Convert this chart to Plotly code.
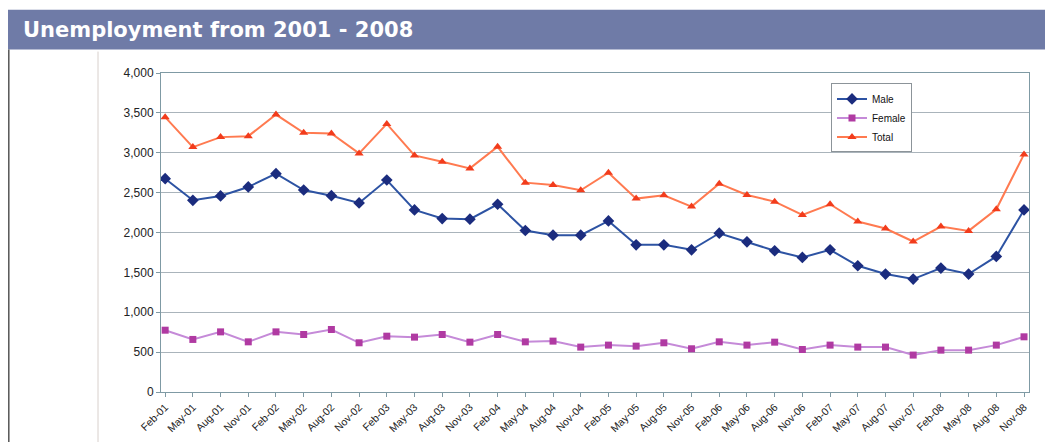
import plotly.graph_objects as go

months = ["Feb", "May", "Aug", "Nov"]
categories = [f"{m}-{y:02d}" for y in range(1, 9) for m in months]

male = [2675, 2404, 2458, 2571, 2737, 2533, 2462, 2371, 2658, 2283, 2175, 2167,
        2354, 2025, 1967, 1966, 2145, 1846, 1846, 1783, 1991, 1883, 1771, 1687,
        1783, 1583, 1479, 1416, 1554, 1479, 1700, 2283]
female = [775, 659, 754, 629, 754, 721, 784, 617, 700, 688, 721, 625,
          721, 629, 638, 563, 588, 575, 617, 542, 629, 588, 625, 533,
          588, 563, 563, 463, 525, 525, 588, 692]
total = [3446, 3071, 3196, 3208, 3479, 3250, 3242, 2992, 3362, 2967, 2887, 2804,
         3075, 2625, 2596, 2529, 2750, 2425, 2466, 2325, 2612, 2470, 2387, 2220,
         2354, 2137, 2050, 1887, 2075, 2020, 2291, 2979]

# page has an 8px body margin: work in page coordinates, convert to figure coords
OFF = 8
W, H = 1053 - OFF, 442 - OFF
L, R, T, B = 161 - OFF, 1029 - OFF, 72.5 - OFF, 392.5 - OFF

def px(x):
    return (x - OFF - L) / (R - L)

def py(y):
    return (B - (y - OFF)) / (B - T)

fig = go.Figure()
fig.add_trace(go.Scatter(x=categories, y=male, name="Male", mode="lines+markers",
                         line=dict(color="#2d53a3", width=2),
                         marker=dict(symbol="diamond", size=9, color="#1b2c7e")))
fig.add_trace(go.Scatter(x=categories, y=female, name="Female", mode="lines+markers",
                         line=dict(color="#c58ad8", width=2),
                         marker=dict(symbol="square", size=7, color="#b03aa2")))
fig.add_trace(go.Scatter(x=categories, y=total, name="Total", mode="lines+markers",
                         line=dict(color="#ff7a50", width=2),
                         marker=dict(symbol="triangle-up", size=8, color="#f23c1c")))

fig.update_layout(
    width=W, height=H,
    margin=dict(l=L, r=W - R, t=T, b=H - B, pad=0, autoexpand=False),
    paper_bgcolor="white", plot_bgcolor="white",
    font=dict(family="Liberation Sans, Arial, sans-serif", color="#222222", size=11),
    showlegend=True,
    legend=dict(x=px(831), y=py(83), xanchor="left", yanchor="top",
                bgcolor="white", bordercolor="#8c9499", borderwidth=1,
                font=dict(size=10, color="#111111", family="Liberation Sans, Arial, sans-serif"),
                itemwidth=30, tracegroupgap=0),
    shapes=[
        dict(type="rect", xref="paper", yref="paper", x0=px(7), x1=px(1060),
             y0=py(49), y1=py(9), fillcolor="#6f7ba7", line=dict(width=0), layer="above"),
        dict(type="line", xref="paper", yref="paper", x0=px(8.8), x1=px(8.8),
             y0=py(49), y1=py(450), line=dict(color="#555555", width=1.5)),
        dict(type="line", xref="paper", yref="paper", x0=px(98), x1=px(98),
             y0=py(51), y1=py(450), line=dict(color="#d8d0cc", width=1)),
    ],
    annotations=[
        dict(text="<b>Unemployment from 2001 - 2008</b>", xref="paper", yref="paper",
             x=px(21), y=py(29), xanchor="left", yanchor="middle", showarrow=False,
             font=dict(family="DejaVu Sans, sans-serif", size=21, color="white")),
    ],
)

fig.update_xaxes(type="category", range=[-0.15, 31.18], tickangle=-45,
                 ticks="outside", ticklen=4, tickcolor="#7f9aa4", automargin=False,
                 showline=True, linecolor="#7f9aa4", linewidth=1, mirror=True,
                 showgrid=False, tickfont=dict(size=10.5))
fig.update_yaxes(range=[0, 4000], dtick=500, tickformat=",", automargin=False,
                 ticks="outside", ticklen=4, tickcolor="#7f9aa4",
                 showline=True, linecolor="#7f9aa4", linewidth=1, mirror=True,
                 showgrid=True, gridcolor="#aab4bb", gridwidth=1,
                 zeroline=False, tickfont=dict(size=12))

fig.write_html("out.html")
